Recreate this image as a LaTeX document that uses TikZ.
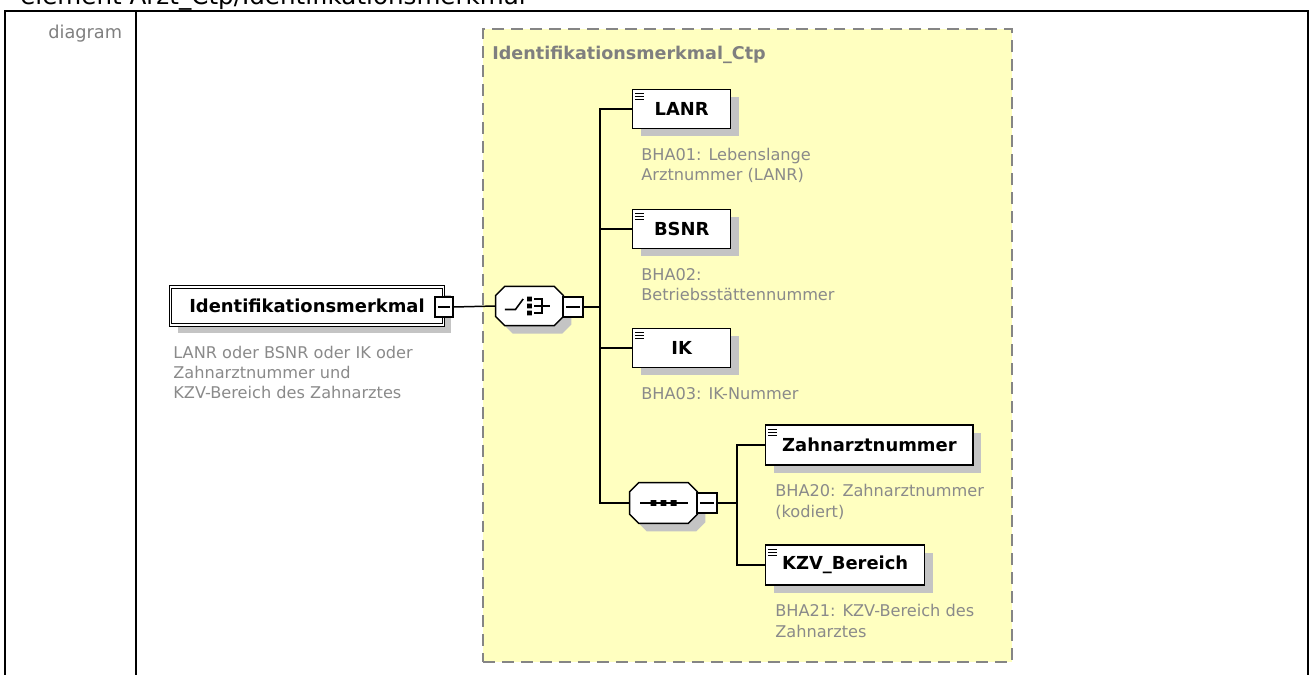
\documentclass[tikz,border=0pt]{standalone}
\usepackage{fontspec}
\setmainfont{DejaVu Sans}
\usepackage{tikz}
\usetikzlibrary{shadows,positioning}
\definecolor{ctpyellow}{HTML}{FFFFC0}
\definecolor{descgray}{HTML}{8A8A8A}
\definecolor{titlegray}{HTML}{7F7F7F}
\definecolor{shadowgray}{HTML}{C4C4C4}
\definecolor{dashgray}{HTML}{858585}

\begin{document}
\begin{tikzpicture}[x=0.02cm,y=-0.02cm,
  elem/.style={rectangle,draw=black,line width=0.8pt,fill=white,
              minimum width=1.96cm,minimum height=0.78cm,inner xsep=0.33cm,
              font=\fontsize{10.2}{12}\selectfont\bfseries,anchor=west,
              general shadow={fill=shadowgray,draw=none,shadow xshift=4.5pt,shadow yshift=-4.5pt},
              path picture={\draw[line width=0.6pt]
                ([shift={(1.2pt,-2.4pt)}]path picture bounding box.north west) -- ++(5pt,0pt)
                ([shift={(1.2pt,-4.1pt)}]path picture bounding box.north west) -- ++(5pt,0pt)
                ([shift={(1.2pt,-5.8pt)}]path picture bounding box.north west) -- ++(5pt,0pt);}},
  rootelem/.style={rectangle,draw=black,double,double distance=0.6pt,line width=0.6pt,
              fill=white,minimum width=5.46cm,minimum height=0.76cm,anchor=west,
              font=\fontsize{10.2}{12}\selectfont\bfseries,
              general shadow={fill=shadowgray,draw=none,shadow xshift=4.5pt,shadow yshift=-4.5pt}},
  compositor/.style={rectangle,draw=none,fill=none,inner sep=0pt,
              minimum width=1.34cm,minimum height=0.77cm},
  octagon/.style={draw=black,line width=0.8pt,fill=white,
              general shadow={fill=shadowgray,draw=none,shadow xshift=4.5pt,shadow yshift=-4.5pt}},
  icon/.style={line width=0.9pt},
  minusbox/.style={rectangle,draw=black,line width=0.7pt,fill=white,inner sep=0pt,
              minimum width=0.4cm,minimum height=0.4cm,
              path picture={\draw[line width=0.7pt]
                ([xshift=1.6pt]path picture bounding box.west) -- ([xshift=-1.6pt]path picture bounding box.east);}},
  desc/.style={font=\fontsize{9.2}{11.5}\selectfont,text=descgray,align=left,inner sep=0pt},
  ctpbox/.style={rectangle,draw=dashgray,line width=0.85pt,dash pattern=on 6.8pt off 4pt,
              fill=ctpyellow,minimum width=10.58cm,minimum height=12.66cm,inner sep=0pt},
  ctptitle/.style={font=\fontsize{10}{12}\selectfont\bfseries,text=titlegray,inner sep=0pt,anchor=mid west},
  conn/.style={draw=black,line width=0.85pt},
  frame/.style={draw=black,line width=1.1pt}]
%%
\useasboundingbox (0,0) rectangle (1311,675);
%%
%% Table frame and headings
\node[font=\fontsize{14}{16}\selectfont,anchor=base west,inner sep=0pt] (heading) at (20,5)
  {element Arzt\_Ctp/Identifikationsmerkmal};
\draw[frame] (5,675) -- (5,11) -- (1308,11) -- (1308,675);
\draw[frame] (136,11) -- (136,675);
\node[font=\fontsize{10.1}{12}\selectfont,text=titlegray,anchor=mid west,inner sep=0pt] (rowname) at (48,34) {diagram};
%%
%% Complex type container
\node[ctpbox] (ctp) at (747.5,345.5) {};
\node[ctptitle] (ctpname) at (492,55) {Identifikationsmerkmal\_Ctp};
%%
%% Root element
\node[rootelem] (root) at (170,306) {Identifikationsmerkmal\hspace{19pt}};
\node[minusbox,minimum width=0.36cm] (rootm) at (444,307) {};
\node[desc,below right=0.4cm and 0.06cm of root.south west] (rootdesc)
  {LANR oder BSNR oder IK oder\\Zahnarztnummer und\\KZV-Bereich des Zahnarztes};
%%
%% Choice
\node[compositor] (choice) at (529.5,306) {};
\path[octagon] ([xshift=0.18cm]choice.north west) -- ([xshift=-0.18cm]choice.north east)
  -- ([yshift=-0.18cm]choice.north east) -- ([yshift=0.18cm]choice.south east)
  -- ([xshift=-0.18cm]choice.south east) -- ([xshift=0.18cm]choice.south west)
  -- ([yshift=0.18cm]choice.south west) -- ([yshift=-0.18cm]choice.north west) -- cycle;
\begin{scope}[shift={(choice.center)}]
  \draw[icon] (-14pt,-2pt) -- (-8pt,-2pt) -- (-3.6pt,4pt);
  \fill (-1.4pt,2.6pt) rectangle (1.4pt,5.4pt) (-1.4pt,-1.4pt) rectangle (1.4pt,1.4pt)
        (-1.4pt,-5.4pt) rectangle (1.4pt,-2.6pt);
  \draw[icon] (2.6pt,4pt) -- (7pt,4pt) -- (7pt,-4pt) -- (2.6pt,-4pt)
        (2.6pt,0pt) -- (11.5pt,0pt);
\end{scope}
\node[minusbox] (choicem) at (573,307) {};
\coordinate (trunk) at (600,307);
%%
%% Children of the choice
\node[elem] (lanr) at (632,109) {LANR};
\node[elem] (bsnr) at (632,229) {BSNR};
\node[elem] (ik)   at (632,348) {IK};
\node[desc,below right=0.37cm and 0.18cm of lanr.south west] (lanrdesc)
  {BHA01: Lebenslange\\Arztnummer (LANR)};
\node[desc,below right=0.37cm and 0.18cm of bsnr.south west] (bsnrdesc)
  {BHA02:\\Betriebsstättennummer};
\node[desc,below right=0.37cm and 0.18cm of ik.south west] (ikdesc)
  {BHA03: IK-Nummer};
%%
%% Sequence
\node[compositor,minimum height=0.8cm] (seq) at (663.5,503) {};
\path[octagon] ([xshift=0.18cm]seq.north west) -- ([xshift=-0.18cm]seq.north east)
  -- ([yshift=-0.18cm]seq.north east) -- ([yshift=0.18cm]seq.south east)
  -- ([xshift=-0.18cm]seq.south east) -- ([xshift=0.18cm]seq.south west)
  -- ([yshift=0.18cm]seq.south west) -- ([yshift=-0.18cm]seq.north west) -- cycle;
\begin{scope}[shift={(seq.center)}]
  \draw[icon] (-13.2pt,0pt) -- (13.8pt,0pt);
  \fill (-7.4pt,-1.7pt) rectangle (-4pt,1.7pt) (-1.7pt,-1.7pt) rectangle (1.7pt,1.7pt)
        (4pt,-1.7pt) rectangle (7.4pt,1.7pt);
\end{scope}
\node[minusbox] (seqm) at (707,503) {};
\coordinate (seqtrunk) at (737,503);
\node[elem,minimum height=0.8cm] (zahn) at (765,445) {Zahnarztnummer};
\node[elem,minimum height=0.8cm] (kzv)  at (765,565) {KZV\_Bereich};
\node[desc,below right=0.37cm and 0.2cm of zahn.south west] (zahndesc)
  {BHA20: Zahnarztnummer\\(kodiert)};
\node[desc,below right=0.37cm and 0.2cm of kzv.south west] (kzvdesc)
  {BHA21: KZV-Bereich des\\Zahnarztes};
%%
%% Connectors
\draw[conn] (rootm.east) -- (choice.west);
\draw[conn] (choicem.east) -- (trunk);
\draw[conn] (lanr.west) -| (trunk) |- (seq.west);
\draw[conn] (bsnr.west) -- (bsnr.west -| trunk);
\draw[conn] (ik.west) -- (ik.west -| trunk);
\draw[conn] (seqm.east) -- (seqtrunk);
\draw[conn] (zahn.west) -| (seqtrunk) |- (kzv.west);
\end{tikzpicture}
\end{document}
